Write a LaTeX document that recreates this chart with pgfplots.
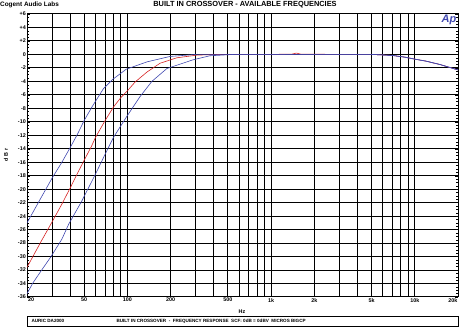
\documentclass[border=0pt]{standalone}
\usepackage{fontspec}
\setmainfont{Liberation Sans}
\usepackage{pgfplots}
\pgfplotsset{compat=1.18}
\definecolor{apblue}{RGB}{64,72,176}
\definecolor{apred}{RGB}{214,34,34}
\newcommand{\tk}{\bfseries\fontsize{5.4}{6}\selectfont}
\newcommand{\bx}{\bfseries\fontsize{4.6}{5}\selectfont}
\begin{document}
\begin{tikzpicture}
\useasboundingbox (-27pt,-31pt) rectangle (433pt,297pt);
\begin{axis}[at={(0pt,0pt)}, anchor=south west, scale only axis,
  width=431pt, height=283pt,
  xmode=log, xmin=20, xmax=20000, ymin=-36, ymax=6,
  xtick={20,50,100,200,500,1000,2000,5000,10000,20000},
  xticklabels={\makebox[0pt][l]{\hspace{1pt}20},50,100,200,500,1k,2k,5k,10k,\makebox[0pt][r]{20k\hspace{0.5pt}}},
  minor xtick={30,40,60,70,80,90,300,400,600,700,800,900,3000,4000,6000,7000,8000,9000},
  ytick={-36,-34,...,6},
  yticklabels={\raisebox{1.5pt}{-36},-34,-32,-30,-28,-26,-24,-22,-20,-18,-16,-14,-12,-10,-8,-6,-4,-2,0,+2,+4,+6},
  minor y tick num=3,
  xmajorgrids=true, xminorgrids=true, ymajorgrids=true, yminorgrids=false,
  major grid style={black, line width=1pt},
  minor grid style={black, line width=1pt},
  axis line style={black, line width=1pt},
  tick align=inside,
  x tick style={draw=none},
  y tick style={black, line width=0.4pt},
  major tick length=3pt, minor tick length=2pt,
  /pgf/number format/assume math mode=true,
  xticklabel style={font=\tk, inner sep=1pt},
  yticklabel style={font=\tk, inner sep=1pt},
  clip=true,
]
\addplot[apred, line width=0.6pt] coordinates {
(20,-31.6) (25,-27.8) (30,-24.8) (35,-22.2) (40,-19.8) (45,-17.6) (50,-15.7)
(56,-13.7) (60,-12.3) (70,-9.8) (80,-7.8) (90,-6.4) (100,-5.4) (113,-4.1)
(137,-2.6) (169,-1.3) (221,-0.5) (305,-0.1) (450,0) (700,0) (1000,0)
(1400,0.05) (1500,0.2) (1600,0.05) (3000,0) (5000,0) (7000,-0.15) (8500,-0.4)
(10000,-0.7) (12000,-1.0) (15000,-1.5) (20000,-2.3)};
\addplot[apblue, line width=0.6pt] coordinates {
(20,-25.0) (25,-21.3) (30,-18.3) (35,-16.0) (40,-13.8) (45,-11.8) (50,-9.8)
(57,-7.7) (68,-5.1) (79,-3.7) (98,-2.2) (137,-1.1) (198,-0.3) (300,0)
(1000,0) (3000,0) (5000,0) (7000,-0.15) (8500,-0.4)
(10000,-0.7) (12000,-1.0) (15000,-1.5) (20000,-2.3)};
\addplot[apblue, line width=0.6pt] coordinates {
(20,-35.5) (22,-33.9) (25.3,-32.0) (29.4,-30.0) (35,-27.4) (39,-25.2) (48,-21.8)
(59.5,-17.9) (70,-14.8) (80,-12.3) (99,-9.2) (122,-6.3) (148,-4.0) (188,-2.1)
(286,-0.8) (375,-0.2) (550,0) (1000,0) (3000,0) (5000,0) (7000,-0.15) (8500,-0.4)
(10000,-0.7) (12000,-1.0) (15000,-1.5) (20000,-2.3)};
\end{axis}
\node[font=\bfseries\fontsize{6.4}{7}\selectfont, anchor=west, inner sep=0pt] at (-27pt,292pt) {Cogent Audio Labs};
\node[font=\bfseries\fontsize{7.4}{8}\selectfont, inner sep=0pt] at (218pt,292pt) {BUILT IN CROSSOVER - AVAILABLE FREQUENCIES};
\node[font=\bfseries\itshape\fontsize{11}{12}\selectfont, text=apblue] at (422pt,277pt) {Ap};
\node[font=\tk, rotate=90] at (-21pt,142pt) {d B r};
\node[font=\tk] at (215pt,-15pt) {Hz};
\draw[line width=0.5pt] (0pt,-19pt) rectangle (431pt,-29pt);
\node[font=\bx, anchor=west] at (1pt,-24pt) {AURIC DA2000};
\node[font=\bx, anchor=west] at (86pt,-24pt) {BUILT IN CROSSOVER \ - \ FREQUENCY RESPONSE \ SCF: 0dB = 0dBV \ MICROS BIGCP};
\end{tikzpicture}
\end{document}
